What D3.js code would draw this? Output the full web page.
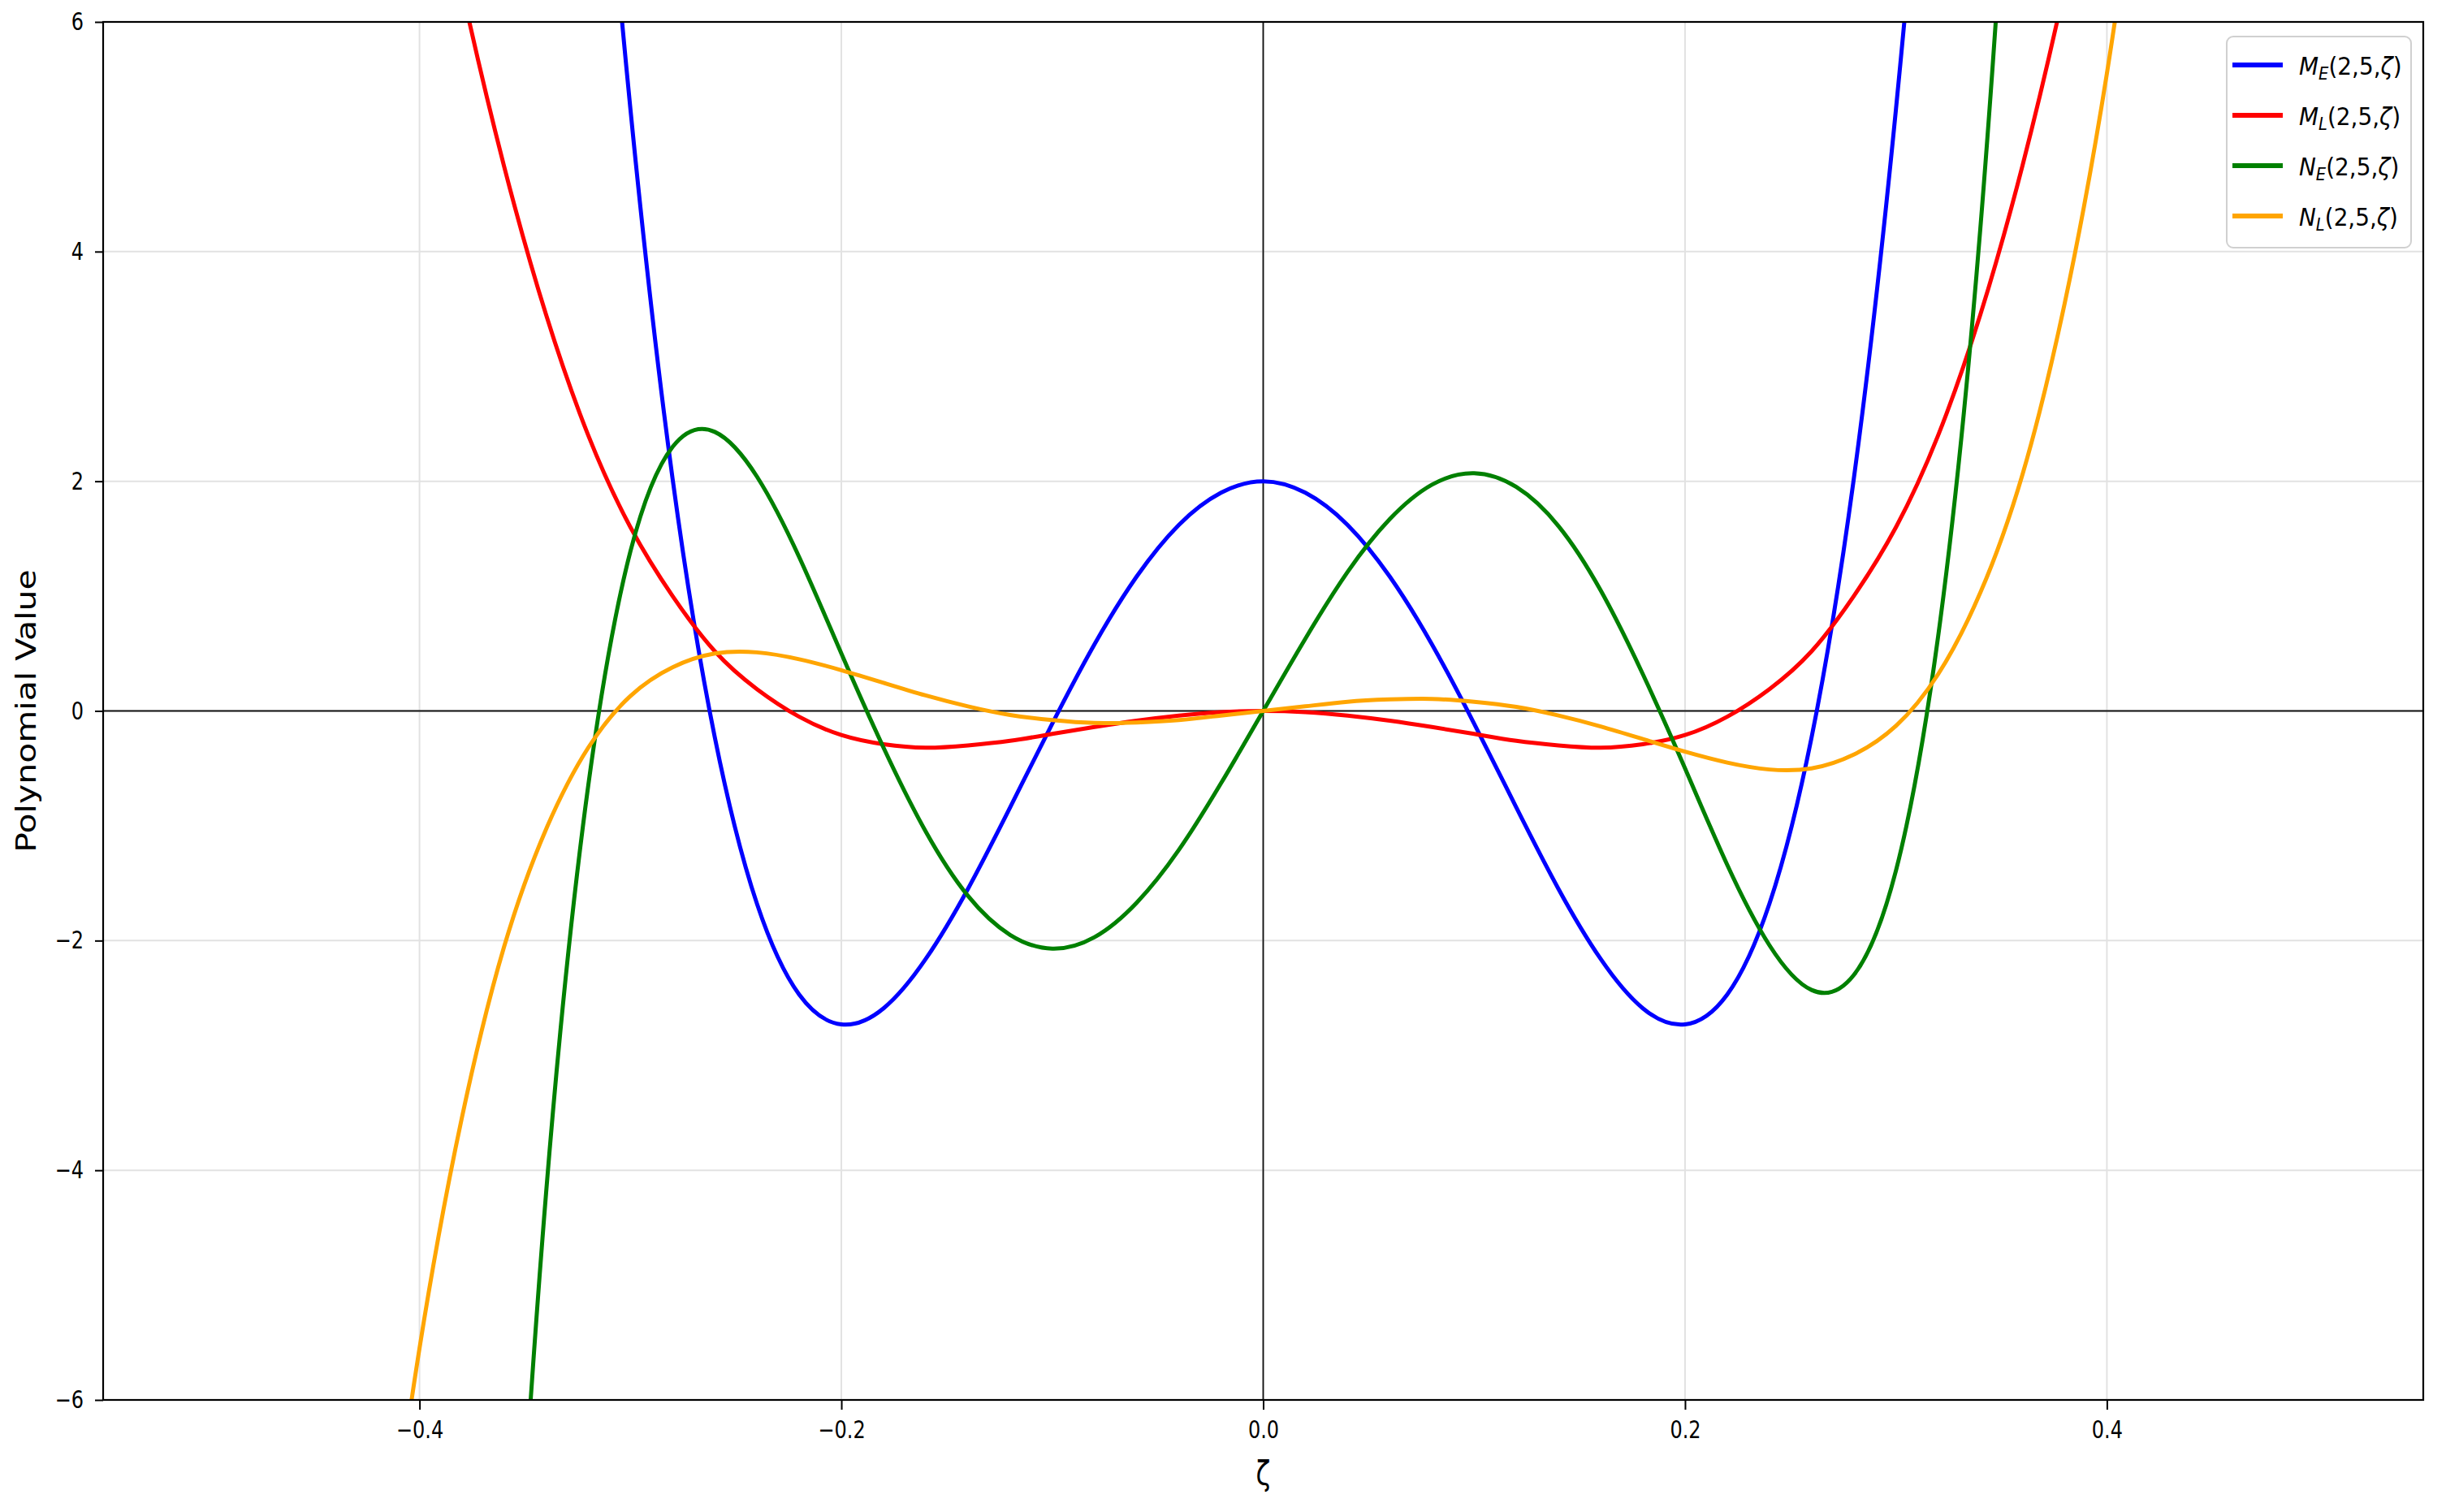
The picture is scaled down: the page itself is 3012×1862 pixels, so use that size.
<!DOCTYPE html>
<html>
<head>
<meta charset="utf-8">
<script src="https://cdn.jsdelivr.net/npm/d3@7"></script>
<style>
  body { margin: 0; background: #fff; }
  svg { display: block; }
</style>
</head>
<body>
<div id="chart"></div>
<script>
// ---- values (null = off the plot) ----
var zeta = [-0.42, -0.40, -0.38, -0.36, -0.34, -0.32, -0.30, -0.28, -0.26, -0.24, -0.22, -0.20, -0.18, -0.16, -0.14, -0.12, -0.10, -0.08, -0.06, -0.04, -0.02, 0,
            0.02, 0.04, 0.06, 0.08, 0.10, 0.12, 0.14, 0.16, 0.18, 0.20, 0.22, 0.24, 0.26, 0.28, 0.30, 0.32, 0.34, 0.36, 0.38, 0.40, 0.42]
// M_E(2,5,ζ)  blue
var valME = [null, null, null, null, 15.3, 9.6, 5.24, 2.02, -0.23, -1.68, -2.47, -2.73, -2.59, -2.16, -1.55, -0.84, -0.11, 0.58, 1.17, 1.62, 1.90, 2,
             1.90, 1.62, 1.17, 0.58, -0.11, -0.84, -1.55, -2.16, -2.59, -2.73, -2.47, -1.68, -0.23, 2.02, 5.24, 9.6, 15.3, null, null, null, null]
// M_L(2,5,ζ)  red
var valML = [10.4, 8.15, 6.3, 4.75, 3.45, 2.4, 1.6, 1.0, 0.52, 0.19, -0.05, -0.21, -0.29, -0.32, -0.30, -0.26, -0.20, -0.14, -0.085, -0.04, -0.01, 0,
             -0.01, -0.04, -0.085, -0.14, -0.20, -0.26, -0.30, -0.32, -0.29, -0.21, -0.05, 0.19, 0.52, 1.0, 1.6, 2.4, 3.45, 4.75, 6.3, 8.15, 10.4]
// N_E(2,5,ζ)  green
var valNE = [null, null, -17.1, -9.8, -4.2, -0.65, 1.39, 2.3, 2.43, 2.04, 1.34, 0.5, -0.32, -1.05, -1.61, -1.95, -2.07, -1.97, -1.67, -1.21, -0.63, 0,
             0.63, 1.21, 1.67, 1.97, 2.07, 1.95, 1.61, 1.05, 0.32, -0.5, -1.34, -2.04, -2.43, -2.3, -1.39, 0.65, 4.2, 9.8, 17.1, null, null]
// N_L(2,5,ζ)  orange
var valNL = [-8.1, -5.55, -3.55, -2.06, -1.03, -0.32, 0.13, 0.38, 0.5, 0.51, 0.45, 0.355, 0.245, 0.135, 0.04, -0.035, -0.08, -0.105, -0.10, -0.08, -0.04, 0,
             0.04, 0.08, 0.10, 0.105, 0.08, 0.035, -0.04, -0.135, -0.245, -0.355, -0.45, -0.51, -0.5, -0.38, -0.13, 0.32, 1.03, 2.06, 3.55, 5.55, 8.1]

var seriesNames  = ['M', 'M', 'N', 'N']
var seriesSubs   = ['E', 'L', 'E', 'L']
var seriesColors = ['blue', 'red', 'green', 'orange']
var seriesVals   = [valME, valML, valNE, valNL]

var zetaTicks  = [-0.4, -0.2, 0, 0.2, 0.4]
var valueTicks = [-6, -4, -2, 0, 2, 4, 6]
var zetaDomain  = [-0.55, 0.55]
var valueDomain = [-6, 6]

// ---- layout ----
var width = 3012, height = 1862
var margin = {left: 127, top: 27, right: 28, bottom: 138}
var squash = 0.8   // the picture's text is narrow horizontally
var font = 'DejaVu Sans'

var svg = d3.select('#chart')
    .append('svg')
    .attr('width', width)
    .attr('height', height)
    .style('background', '#fff')

var x = d3.scaleLinear().domain(zetaDomain).range([margin.left, width - margin.right])
var y = d3.scaleLinear().domain(valueDomain).range([height - margin.bottom, margin.top])

// clip for curves
svg.append('defs').append('clipPath')
    .attr('id', 'plotClip')
    .append('rect')
    .attr('x', margin.left)
    .attr('y', margin.top)
    .attr('width', width - margin.left - margin.right)
    .attr('height', height - margin.top - margin.bottom)

// grid
var grid = svg.append('g')
grid.selectAll('.vgrid')
    .data(zetaTicks)
    .enter()
    .append('line')
    .attr('x1', d => x(d)).attr('x2', d => x(d))
    .attr('y1', margin.top).attr('y2', height - margin.bottom)
    .attr('stroke', '#e2e2e2')
    .attr('stroke-width', 2)
grid.selectAll('.hgrid')
    .data(valueTicks)
    .enter()
    .append('line')
    .attr('x1', margin.left).attr('x2', width - margin.right)
    .attr('y1', d => y(d)).attr('y2', d => y(d))
    .attr('stroke', '#e2e2e2')
    .attr('stroke-width', 2)

// zero lines
svg.append('line')
    .attr('x1', margin.left).attr('x2', width - margin.right)
    .attr('y1', y(0)).attr('y2', y(0))
    .attr('stroke', '#111').attr('stroke-width', 1.8)
svg.append('line')
    .attr('x1', x(0)).attr('x2', x(0))
    .attr('y1', margin.top).attr('y2', height - margin.bottom)
    .attr('stroke', '#111').attr('stroke-width', 1.8)

// curves
var line = d3.line()
    .defined(d => d[1] !== null)
    .x(d => x(d[0]))
    .y(d => y(d[1]))
    .curve(d3.curveNatural)

var curves = svg.append('g').attr('clip-path', 'url(#plotClip)')
seriesVals.forEach(function (vals, i) {
    var pts = zeta.map((z, j) => [z, vals[j]])
    curves.append('path')
        .datum(pts)
        .attr('d', line)
        .attr('fill', 'none')
        .attr('stroke', seriesColors[i])
        .attr('stroke-width', 5)
        .attr('stroke-linejoin', 'round')
})

// frame
svg.append('rect')
    .attr('x', margin.left)
    .attr('y', margin.top)
    .attr('width', width - margin.left - margin.right)
    .attr('height', height - margin.top - margin.bottom)
    .attr('fill', 'none')
    .attr('stroke', '#000')
    .attr('stroke-width', 2.2)

// x axis
var xAxis = d3.axisBottom(x)
    .tickValues(zetaTicks)
    .tickFormat(d3.format('.1f'))
    .tickSizeInner(12)
    .tickSizeOuter(0)
    .tickPadding(14)
var gx = svg.append('g')
    .attr('transform', `translate(0,${height - margin.bottom})`)
    .call(xAxis)
gx.select('.domain').remove()
gx.selectAll('.tick line').attr('stroke', '#000').attr('stroke-width', 2)
gx.selectAll('.tick text')
    .attr('fill', '#000')
    .attr('font-family', font)
    .attr('font-size', 30)
    .attr('transform', `scale(${squash},1)`)

// y axis
var yAxis = d3.axisLeft(y)
    .tickValues(valueTicks)
    .tickFormat(d3.format('d'))
    .tickSizeInner(10)
    .tickSizeOuter(0)
    .tickPadding(14)
var gy = svg.append('g')
    .attr('transform', `translate(${margin.left},0)`)
    .call(yAxis)
gy.select('.domain').remove()
gy.selectAll('.tick line').attr('stroke', '#000').attr('stroke-width', 2)
gy.selectAll('.tick text')
    .attr('fill', '#000')
    .attr('font-family', font)
    .attr('font-size', 30)
    .attr('x', -24 / squash)
    .attr('transform', `scale(${squash},1)`)

// axis labels
svg.append('text')
    .attr('transform', `translate(${x(0)},1828) scale(${squash},1)`)
    .attr('text-anchor', 'middle')
    .attr('font-family', font)
    .attr('font-size', 41)
    .attr('fill', '#000')
    .text('ζ')
svg.append('text')
    .attr('transform', `translate(44,${(margin.top + height - margin.bottom) / 2}) scale(0.84,1) rotate(-90)`)
    .attr('text-anchor', 'middle')
    .attr('font-family', font)
    .attr('font-size', 41)
    .attr('fill', '#000')
    .text('Polynomial Value')

// legend
var legend = svg.append('g').attr('transform', 'translate(2742,45)')
legend.append('rect')
    .attr('width', 227)
    .attr('height', 260)
    .attr('rx', 8)
    .attr('fill', '#fff')
    .attr('fill-opacity', 0.85)
    .attr('stroke', '#d0d0d0')
    .attr('stroke-width', 2)

var rows = legend.selectAll('.row')
    .data(seriesColors)
    .enter()
    .append('g')
    .attr('transform', (d, i) => `translate(0,${35 + i * 62})`)
rows.append('line')
    .attr('x1', 7).attr('x2', 69)
    .attr('y1', 0).attr('y2', 0)
    .attr('stroke', d => d)
    .attr('stroke-width', 6)
var labels = rows.append('text')
    .attr('transform', `translate(89,12) scale(0.93,1)`)
    .attr('font-family', font)
    .attr('font-size', 30)
    .attr('fill', '#000')
labels.append('tspan').attr('font-style', 'italic').text((d, i) => seriesNames[i])
labels.append('tspan').attr('font-style', 'italic').attr('font-size', 21).attr('dy', 6).text((d, i) => seriesSubs[i])
labels.append('tspan').attr('dy', -6).text('(2,5,')
labels.append('tspan').attr('font-style', 'italic').text('ζ')
labels.append('tspan').text(')')
</script>
</body>
</html>
